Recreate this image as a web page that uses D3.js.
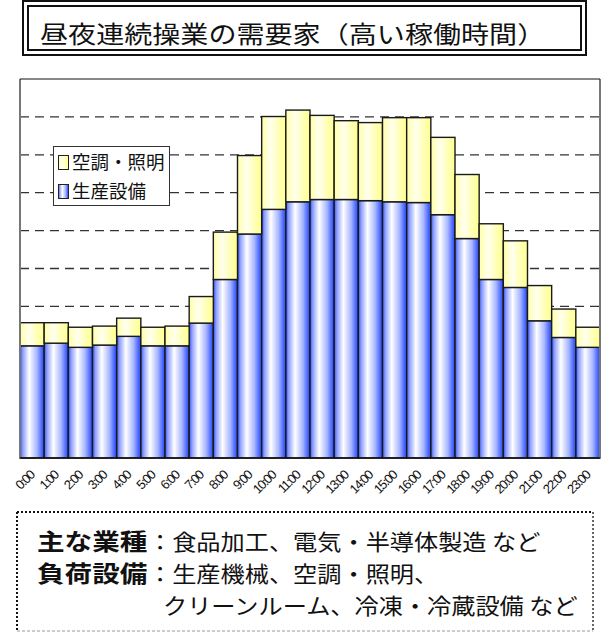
<!DOCTYPE html>
<html>
<head>
<meta charset="utf-8">
<script src="https://cdn.jsdelivr.net/npm/d3@7"></script>
<style>
body { margin: 0; background: #fff; }
svg { display: block; }
</style>
</head>
<body>
<div class="chart"></div>
<script>
const width = 601;
const height = 633;

// data (arbitrary units, gridline = 10)
const hours = ["0:00","1:00","2:00","3:00","4:00","5:00","6:00","7:00","8:00","9:00","10:00","11:00",
               "12:00","13:00","14:00","15:00","16:00","17:00","18:00","19:00","20:00","21:00","22:00","23:00"];
const production = [29.6,30.3,29.2,29.8,32.1,29.6,29.6,35.6,47.1,59.1,65.6,67.6,
                    68.2,68.2,67.9,67.6,67.4,64.2,57.9,47.1,45.0,36.2,31.8,29.2];
const hvac = [6.1,5.4,5.3,5.0,4.8,4.9,5.2,7.0,12.5,20.7,24.5,24.2,
              22.2,20.8,20.6,22.2,22.4,20.4,16.9,14.7,12.3,9.3,7.5,5.3];
const seriesNames = ["生産設備", "空調・照明"];
const legendOrder = ["空調・照明", "生産設備"];
const gridTicks = [10,20,30,40,50,60,70,80,90];

const title = "昼夜連続操業の需要家（高い稼働時間）";
const noteLines = [
    {head: "主な業種", body: "：食品加工、電気・半導体製造 など"},
    {head: "負荷設備", body: "：生産機械、空調・照明、"},
    {head: "", body: "クリーンルーム、冷凍・冷蔵設備 など"}
];

const plot = {left: 20, top: 79, right: 600, bottom: 458};
const jp = "'Noto Sans CJK JP', sans-serif";

const svg = d3.select('.chart').append('svg')
    .attr('width', width)
    .attr('height', height);

const defs = svg.append('defs');
function addGradient(id, stops) {
    const g = defs.append('linearGradient').attr('id', id)
        .attr('x1', '0%').attr('x2', '100%').attr('y1', '0%').attr('y2', '0%');
    stops.forEach(s => g.append('stop').attr('offset', s[0]).attr('stop-color', s[1]));
}
addGradient('blueGrad', [["0%","#3355f0"],["12%","#8fa0ff"],["38%","#ffffff"],["70%","#a8b6ff"],["90%","#4a68ff"],["100%","#2d4be8"]]);
addGradient('yellowGrad', [["0%","#ffffa8"],["38%","#ffffee"],["75%","#ffffb0"],["100%","#ffff90"]]);
const colors = {"生産設備": "url(#blueGrad)", "空調・照明": "url(#yellowGrad)"};

// title box (double frame)
svg.append('rect').attr('x', 23).attr('y', 1).attr('width', 563).attr('height', 54)
    .attr('fill', 'none').attr('stroke', '#111').attr('stroke-width', 2);
svg.append('rect').attr('x', 28).attr('y', 6).attr('width', 553).attr('height', 44)
    .attr('fill', 'none').attr('stroke', '#111').attr('stroke-width', 2);
svg.append('text').attr('transform', 'translate(40,43) scale(1.17,1)')
    .attr('font-family', jp).attr('font-size', 24).attr('fill', '#111')
    .text(title);

const x = d3.scaleBand().domain(hours).range([plot.left, plot.right]).padding(0);
const y = d3.scaleLinear().domain([0, 100]).range([plot.bottom, plot.top]);

// gridlines
svg.append('g').selectAll('line').data(gridTicks).join('line')
    .attr('x1', plot.left).attr('x2', plot.right)
    .attr('y1', d => y(d)).attr('y2', d => y(d))
    .attr('stroke', '#333').attr('stroke-width', 1.3).attr('stroke-dasharray', '9,6');

const table = hours.map((h, i) => ({hour: h, "生産設備": production[i], "空調・照明": hvac[i]}));
const stacked = d3.stack().keys(seriesNames)(table);

svg.append('g').selectAll('g').data(stacked).join('g')
    .attr('fill', d => colors[d.key])
    .selectAll('rect').data(d => d).join('rect')
    .attr('x', d => x(d.data.hour))
    .attr('width', x.bandwidth())
    .attr('y', d => y(d[1]))
    .attr('height', d => y(d[0]) - y(d[1]))
    .attr('stroke', '#1a1a1a').attr('stroke-width', 1.4);

// plot frame
svg.append('line').attr('x1', plot.left).attr('x2', plot.left).attr('y1', plot.top).attr('y2', plot.bottom)
    .attr('stroke', '#777').attr('stroke-width', 2);
svg.append('line').attr('x1', plot.right).attr('x2', plot.right).attr('y1', plot.top).attr('y2', plot.bottom)
    .attr('stroke', '#777').attr('stroke-width', 2);
svg.append('line').attr('x1', plot.left).attr('x2', plot.right).attr('y1', plot.top).attr('y2', plot.top)
    .attr('stroke', '#111').attr('stroke-width', 1);
svg.append('line').attr('x1', plot.left).attr('x2', plot.right).attr('y1', plot.bottom).attr('y2', plot.bottom)
    .attr('stroke', '#111').attr('stroke-width', 1.5);

// x labels rotated
svg.append('g').selectAll('text').data(hours).join('text')
    .attr('transform', d => `translate(${x(d) + x.bandwidth() / 2 + 3},${plot.bottom + 18}) rotate(-45)`)
    .attr('text-anchor', 'end')
    .attr('font-family', 'Liberation Sans, Arial, sans-serif')
    .attr('font-size', 13)
    .attr('letter-spacing', -1.3)
    .attr('fill', '#111')
    .text(d => d);

// legend
const legend = svg.append('g');
legend.append('rect').attr('x', 53.5).attr('y', 146.5).attr('width', 116).attr('height', 59)
    .attr('fill', '#fff').attr('stroke', '#333').attr('stroke-width', 1);
legendOrder.forEach((name, i) => {
    legend.append('rect').attr('x', 58.5).attr('y', 155.5 + i * 29).attr('width', 10).attr('height', 14)
        .attr('fill', colors[name]).attr('stroke', '#222').attr('stroke-width', 1);
    legend.append('text').attr('x', 72).attr('y', 169 + i * 29)
        .attr('font-family', jp).attr('font-size', 18.5).attr('fill', '#111')
        .text(name);
});

// note box with dotted border
const nb = {l: 17, t: 512, r: 593, b: 631};
svg.append('line').attr('x1', nb.l).attr('x2', nb.r).attr('y1', nb.t).attr('y2', nb.t)
    .attr('stroke', '#111').attr('stroke-width', 2).attr('stroke-dasharray', '2,2');
svg.append('line').attr('x1', nb.l).attr('x2', nb.l).attr('y1', nb.t).attr('y2', nb.b)
    .attr('stroke', '#111').attr('stroke-width', 2).attr('stroke-dasharray', '2,2');
svg.append('line').attr('x1', nb.r).attr('x2', nb.r).attr('y1', nb.t).attr('y2', nb.b)
    .attr('stroke', '#333').attr('stroke-width', 1.5).attr('stroke-dasharray', '2,2');
svg.append('line').attr('x1', nb.l).attr('x2', nb.r).attr('y1', nb.b).attr('y2', nb.b)
    .attr('stroke', '#999').attr('stroke-width', 1).attr('stroke-dasharray', '3,2');

noteLines.forEach((ln, i) => {
    const yy = 550 + i * 32;
    if (ln.head) {
        svg.append('text')
            .attr('transform', `translate(37,${yy}) scale(1.2,1)`)
            .attr('font-family', jp).attr('font-size', 23).attr('font-weight', 'bold').attr('fill', '#111')
            .text(ln.head);
        svg.append('text')
            .attr('transform', `translate(148,${yy}) scale(1.1,1)`)
            .attr('font-family', jp).attr('font-size', 22).attr('fill', '#111')
            .text(ln.body);
    } else {
        svg.append('text')
            .attr('transform', `translate(163,${yy}) scale(1.1,1)`)
            .attr('font-family', jp).attr('font-size', 22).attr('fill', '#111')
            .text(ln.body);
    }
});
</script>
</body>
</html>
